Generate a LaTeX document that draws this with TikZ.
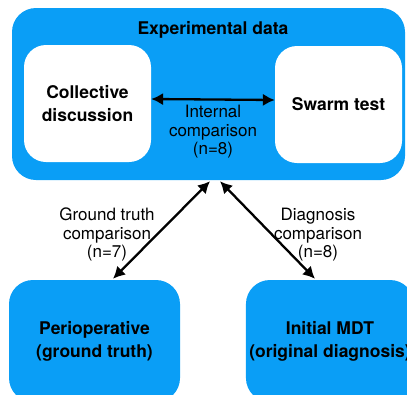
\documentclass[tikz,border=0pt]{standalone}
\usepackage{fontspec}
\setmainfont{TeX Gyre Heros}
\usetikzlibrary{arrows.meta}
\definecolor{boxblue}{RGB}{10,158,246}
\begin{document}
\begin{tikzpicture}[x=1pt,y=-1pt,
  panel/.style={rectangle, rounded corners=24pt, fill=boxblue, draw=none},
  inner/.style={rectangle, rounded corners=22pt, fill=white, draw=none,
    minimum width=127pt, minimum height=117pt, align=center,
    font=\bfseries\fontsize{17.5}{23}\selectfont},
  boxtext/.style={align=center, font=\bfseries\fontsize{17.5}{23}\selectfont},
  edgetext/.style={align=center, font=\fontsize{17}{18.5}\selectfont, inner sep=0pt, anchor=north},
  twoway/.style={{Latex[length=12pt,width=12.5pt]}-{Latex[length=12pt,width=12.5pt]}, line width=2.3pt}]
\useasboundingbox (0,0) rectangle (407,394);
\clip (0,0) rectangle (407,394);

% experimental data panel with its two inner boxes
\node[panel, minimum width=393pt, minimum height=172pt] (exp) at (208.5,94) {};
\node[boxtext, inner sep=0pt, anchor=north] (title) at (213,21) {Experimental data};
\node[inner] (coll) at (87.5,103.5) {Collective\\discussion};
\node[inner] (swarm) at (338.5,104.5) {Swarm test};

% reference diagnoses
\node[panel, boxtext, minimum width=171pt, minimum height=122pt] (peri) at (94.5,341) {Perioperative\\(ground truth)};
\node[panel, boxtext, minimum width=166pt, minimum height=122pt] (mdt) at (330,341) {Initial MDT\\(original diagnosis)};

% comparisons
\draw[twoway] ([yshift=4.5pt]coll.east) -- ([yshift=4.5pt]swarm.west);
\node[edgetext] (internal) at (213,105) {Internal\\comparison\\(n=8)};

\draw[twoway] ([xshift=18.5pt,yshift=1pt]peri.north) -- ([xshift=1.5pt,yshift=-1pt]exp.south);
\draw[twoway] ([xshift=11.5pt,yshift=-1pt]exp.south) -- ([xshift=-15pt,yshift=1pt]mdt.north);
\node[edgetext] (gt) at (107,208) {Ground truth\\comparison\\(n=7)};
\node[edgetext] (diag) at (318,208) {Diagnosis\\comparison\\(n=8)};
\end{tikzpicture}
\end{document}
